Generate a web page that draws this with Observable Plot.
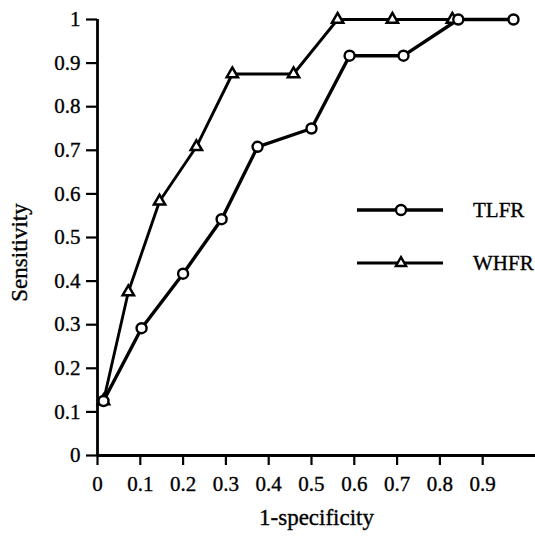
<!DOCTYPE html>
<html>
<head>
<meta charset="utf-8">
<script src="https://cdn.jsdelivr.net/npm/d3@7"></script>
<script src="https://cdn.jsdelivr.net/npm/@observablehq/plot@0.6"></script>
<style>
  html, body { margin: 0; padding: 0; background: #fff; }
  #wrap { position: relative; width: 535px; height: 538px; }
  #legend { position: absolute; left: 0; top: 0; width: 535px; height: 538px; pointer-events: none; }
  svg, svg text { font-family: "Liberation Serif", Tinos, "Times New Roman", Times, "DejaVu Serif", serif !important; }
  svg text { stroke: #000; stroke-width: 0.35px; fill: #000; }
</style>
</head>
<body>
<div id="wrap"><div id="chart"></div><svg id="legend" width="535" height="538"></svg></div>
<script>
const seriesNames = ["TLFR", "WHFR"];
const tlfrX = [0.014, 0.103, 0.200, 0.290, 0.374, 0.500, 0.589, 0.715, 0.843, 0.972];
const tlfrY = [0.125, 0.292, 0.417, 0.542, 0.708, 0.750, 0.917, 0.917, 1.000, 1.000];
const whfrX = [0.014, 0.072, 0.145, 0.231, 0.315, 0.458, 0.561, 0.689, 0.829];
const whfrY = [0.125, 0.375, 0.583, 0.708, 0.875, 0.875, 1.000, 1.000, 1.000];
const xTicks = [0, 0.1, 0.2, 0.3, 0.4, 0.5, 0.6, 0.7, 0.8, 0.9];
const yTicks = [0, 0.1, 0.2, 0.3, 0.4, 0.5, 0.6, 0.7, 0.8, 0.9, 1];
const xLabel = "1-specificity";
const yLabel = "Sensitivity";

const tlfr = tlfrX.map((x, i) => ({x, y: tlfrY[i], s: seriesNames[0]}));
const whfr = whfrX.map((x, i) => ({x, y: whfrY[i], s: seriesNames[1]}));

const font = "'Liberation Serif', Tinos, 'Times New Roman', Times, 'DejaVu Serif', serif";

const plot = Plot.plot({
  width: 535,
  height: 538,
  marginLeft: 97,
  marginRight: 0,
  marginTop: 19,
  marginBottom: 83,
  style: { fontFamily: font, fontSize: "21px", color: "#000", background: "#fff" },
  x: { domain: [0, 1.0234], label: null },
  y: { domain: [0, 1], label: null },
  marks: [
    Plot.axisX({ ticks: xTicks, tickFormat: d => String(d), tickSize: 10, tickPadding: 11, strokeWidth: 2.2, fontSize: 21 }),
    Plot.axisY({ ticks: yTicks, tickFormat: d => String(d), tickSize: 11, tickPadding: 6, strokeWidth: 2.2, fontSize: 21 }),
    Plot.ruleY([0], { strokeWidth: 2.8 }),
    Plot.ruleX([0], { strokeWidth: 2.8 }),
    Plot.text([xLabel], { frameAnchor: "bottom", dy: 69, fontSize: 23 }),
    Plot.text([yLabel], { frameAnchor: "left", textAnchor: "middle", dx: -78, dy: 15, rotate: -90, fontSize: 23 }),
    Plot.line(whfr, { x: "x", y: "y", stroke: "#000", strokeWidth: 2.9 }),
    Plot.line(tlfr, { x: "x", y: "y", stroke: "#000", strokeWidth: 3.4 }),
    Plot.dot(whfr, { x: "x", y: "y", symbol: "triangle", r: 4.2, fill: "#fff", stroke: "#000", strokeWidth: 2.5 }),
    Plot.dot(tlfr, { x: "x", y: "y", symbol: "circle", r: 5, fill: "#fff", stroke: "#000", strokeWidth: 2.4 })
  ]
});
document.getElementById("chart").appendChild(plot);

// Legend
const legend = d3.select("#legend");
const legendItems = [
  { name: seriesNames[0], symbol: d3.symbolCircle, size: 80, width: 3.4, top: 210 },
  { name: seriesNames[1], symbol: d3.symbolTriangle, size: 45, width: 2.9, top: 263 }
];
legendItems.forEach(it => {
  const g = legend.append("g").attr("transform", `translate(0,${it.top})`);
  g.append("line").attr("x1", 357).attr("x2", 443).attr("y1", 0).attr("y2", 0)
    .attr("stroke", "#000").attr("stroke-width", it.width);
  g.append("path").attr("d", d3.symbol(it.symbol, it.size)()).attr("transform", "translate(401,0)")
    .attr("fill", "#fff").attr("stroke", "#000").attr("stroke-width", 2.4);
  g.append("text").attr("x", 473).attr("y", 0).attr("dy", "0.35em")
    .attr("font-family", font).attr("font-size", 21).text(it.name);
});
</script>
</body>
</html>
